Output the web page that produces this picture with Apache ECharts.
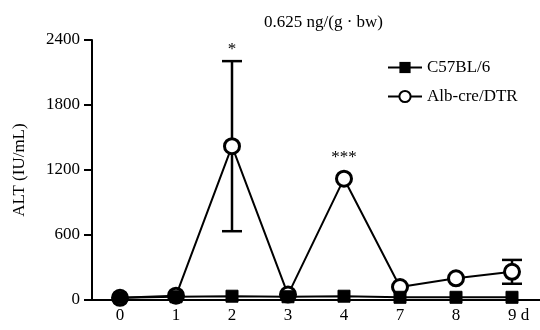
<!DOCTYPE html>
<html>
<head>
<meta charset="utf-8">
<script src="https://cdn.jsdelivr.net/npm/echarts@6/dist/echarts.min.js"></script>
<style>
  html, body { margin: 0; padding: 0; background: #fff; }
  #main { width: 540px; height: 330px; }
</style>
</head>
<body>
<div id="main"></div>
<script>
// 数据
var days = ['0', '1', '2', '3', '4', '7', '8', '9'];
var c57_mean = [20, 30, 35, 30, 35, 25, 25, 25];
var alb_mean = [20, 40, 1420, 50, 1120, 120, 200, 260];
var alb_sd = [0, 0, 785, 0, 0, 0, 0, 110];
var sig = ['', '', '*', '', '***', '', '', ''];

var font = "'Liberation Serif', 'Times New Roman', serif";

var err_data = [];
for (var i = 0; i < days.length; i++) {
    err_data.push([i, alb_mean[i], alb_mean[i] - alb_sd[i], alb_mean[i] + alb_sd[i]]);
}

var myChart = echarts.init(document.getElementById('main'));
var option = {
    animation: false,
    title: {
        text: '0.625 ng/(g · bw)',
        left: 259,
        top: 9,
        textStyle: {fontFamily: font, fontSize: 17, fontWeight: 'normal', color: '#000'}
    },
    legend: {
        orient: 'vertical',
        left: 382,
        top: 54,
        itemWidth: 34,
        itemHeight: 14,
        itemGap: 12,
        data: ['C57BL/6', 'Alb-cre/DTR'],
        textStyle: {fontFamily: font, fontSize: 17, color: '#000'}
    },
    grid: {left: 92, right: 0, top: 40, bottom: 30},
    xAxis: {
        type: 'category',
        data: days,
        axisLine: {lineStyle: {color: '#000', width: 2}},
        axisTick: {alignWithLabel: true, length: 5, interval: 0, lineStyle: {color: '#000', width: 2}},
        axisLabel: {
            color: '#000', fontFamily: font, fontSize: 17, margin: 7, interval: 0,
            formatter: function (v, idx) {
                if (idx === days.length - 1) {
                    return '{d|' + v + ' d}';
                }
                return v;
            },
            rich: {d: {fontFamily: font, fontSize: 17, color: '#000', padding: [0, 0, 0, 13]}}
        }
    },
    yAxis: {
        type: 'value',
        min: 0,
        max: 2400,
        interval: 600,
        name: 'ALT (IU/mL)',
        nameLocation: 'middle',
        nameGap: 64,
        nameTextStyle: {fontFamily: font, fontSize: 17, color: '#000'},
        splitLine: {show: false},
        axisLine: {show: true, lineStyle: {color: '#000', width: 2}},
        axisTick: {show: true, length: 8, lineStyle: {color: '#000', width: 2}},
        axisLabel: {
            color: '#000', fontFamily: font, fontSize: 17, margin: 12,
            formatter: function (v) { return String(v); }
        }
    },
    series: [
        {
            name: 'err',
            type: 'custom',
            z: 1,
            data: err_data,
            renderItem: function (params, api) {
                var idx = params.dataIndex;
                var c = api.coord([api.value(0), api.value(1)]);
                var lo = api.coord([api.value(0), api.value(2)]);
                var hi = api.coord([api.value(0), api.value(3)]);
                var w = 10;
                var children = [];
                if (alb_sd[idx] > 0) {
                    var ls = {stroke: '#000', lineWidth: 2.5};
                    children.push({type: 'line', shape: {x1: c[0], y1: hi[1], x2: c[0], y2: lo[1]}, style: ls});
                    children.push({type: 'line', shape: {x1: c[0] - w, y1: hi[1], x2: c[0] + w, y2: hi[1]}, style: ls});
                    children.push({type: 'line', shape: {x1: c[0] - w, y1: lo[1], x2: c[0] + w, y2: lo[1]}, style: ls});
                }
                if (sig[idx]) {
                    var top = Math.min(hi[1], c[1] - 9);
                    children.push({
                        type: 'text',
                        style: {
                            text: sig[idx], x: c[0], y: top - 12,
                            textAlign: 'center', textVerticalAlign: 'middle',
                            fontFamily: font, fontSize: 17, fill: '#000'
                        }
                    });
                }
                return {type: 'group', children: children};
            }
        },
        {
            name: 'C57BL/6',
            type: 'line',
            z: 3,
            data: c57_mean,
            symbol: 'rect',
            symbolSize: 12,
            lineStyle: {color: '#000', width: 2},
            itemStyle: {color: '#000', borderColor: '#000'}
        },
        {
            name: 'Alb-cre/DTR',
            type: 'line',
            z: 2,
            data: alb_mean,
            symbol: 'circle',
            symbolSize: 15,
            lineStyle: {color: '#000', width: 2},
            itemStyle: {color: '#fff', borderColor: '#000', borderWidth: 3}
        }
    ]
};
myChart.setOption(option);
</script>
</body>
</html>
